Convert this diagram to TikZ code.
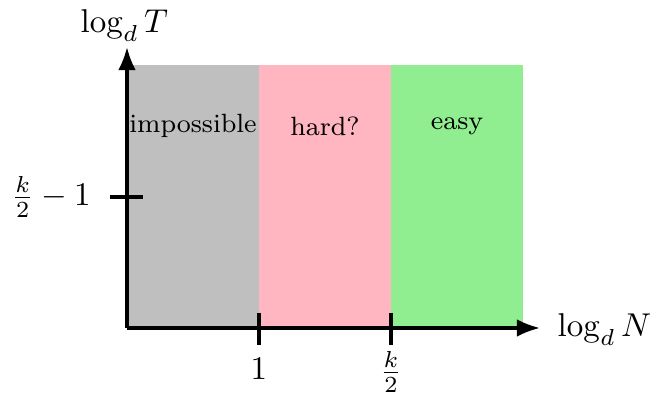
\documentclass[tikz,border=0pt]{standalone}
\usetikzlibrary{arrows.meta}
\definecolor{regGray}{RGB}{191,191,191}
\definecolor{regPink}{RGB}{255,182,193}
\definecolor{regGreen}{RGB}{144,238,144}
\begin{document}
\begin{tikzpicture}[x=0.303pt,y=-0.303pt,
  axis/.style={line width=1pt,-{Latex[length=7pt,width=5.4pt]}},
  tickmark/.style={line width=1pt},
  regionlabel/.style={font=\footnotesize, inner sep=0pt}]
\useasboundingbox (0,0) rectangle (658,393);
% regions
\fill[regGray]  (127,65) rectangle (259,328);
\fill[regPink]  (259,65) rectangle (391,328);
\fill[regGreen] (391,65) rectangle (523,328);
\node[regionlabel] (imp) at (193,126) {impossible};
\node[regionlabel] (hard) at (325,126) {hard?};
\node[regionlabel] (easy) at (457,126) {easy};
% axes
\coordinate (O) at (127,328);
\coordinate (xend) at (540,328);
\coordinate (yend) at (127,47);
\draw[axis] (O) -- (xend);
\draw[axis] (O) -- (yend);
\node[anchor=base west, inner sep=0pt] (xl) at (557,337) {$\log_d N$};
\node[anchor=base west, inner sep=0pt] (yl) at (80,33) {$\log_d T$};
% ticks
\coordinate (t1a) at (259,313); \coordinate (t1b) at (259,345);
\coordinate (t2a) at (391,313); \coordinate (t2b) at (391,345);
\coordinate (tya) at (110,197); \coordinate (tyb) at (143,197);
\draw[tickmark] (t1a) -- (t1b);
\draw[tickmark] (t2a) -- (t2b);
\draw[tickmark] (tya) -- (tyb);
\node[anchor=north, inner sep=0pt] (one) at (259,358) {$1$};
\node[anchor=north, inner sep=0pt] (half) at (391,351) {$\frac{k}{2}$};
\node[inner sep=0pt] (ylab) at (51,197) {$\frac{k}{2}-1$};
\end{tikzpicture}
\end{document}
